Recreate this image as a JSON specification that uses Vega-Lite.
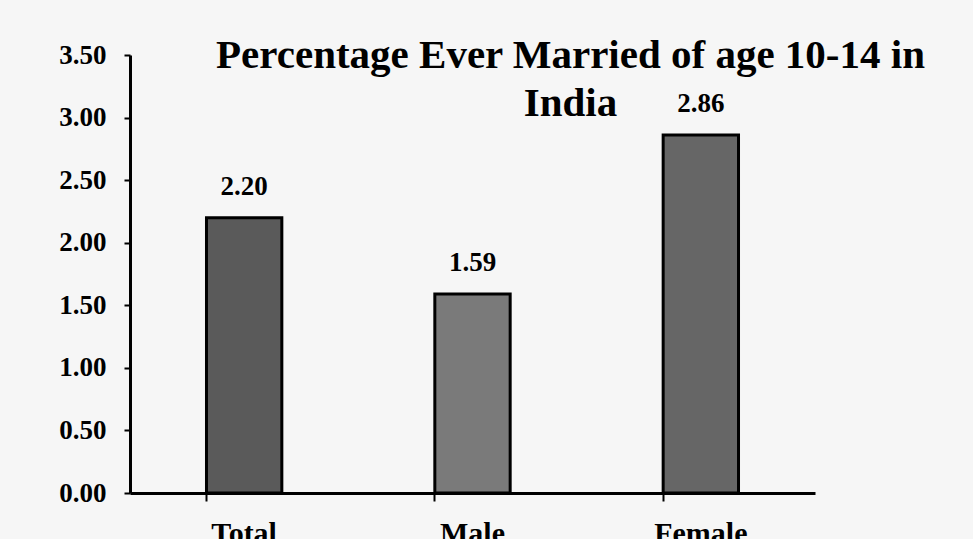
{
  "$schema": "https://vega.github.io/schema/vega-lite/v6.json",
  "autosize": "none",
  "width": 685,
  "height": 438,
  "padding": {"left": 130, "top": 55, "right": 158, "bottom": 46},
  "background": "#f6f6f6",
  "data": {"values": [
    {"category": "Total", "value": 2.20},
    {"category": "Male", "value": 1.59},
    {"category": "Female", "value": 2.86}
  ]},
  "title": {
    "text": ["Percentage Ever Married of age 10-14 in", "India"],
    "font": "Liberation Serif",
    "fontSize": 41,
    "fontWeight": "bold",
    "color": "#000000",
    "lineHeight": 48,
    "anchor": "middle",
    "frame": "group",
    "dx": 98,
    "dy": 84,
    "offset": 0
  },
  "config": {
    "view": {"stroke": null},
    "axis": {
      "labelFont": "Liberation Serif",
      "labelFontWeight": "bold",
      "labelColor": "#000000",
      "domainColor": "#000000",
      "tickColor": "#000000",
      "grid": false,
      "title": null
    }
  },
  "layer": [
    {
      "mark": {"type": "bar", "stroke": "#000000", "strokeWidth": 3},
      "encoding": {
        "x": {
          "field": "category", "type": "nominal", "sort": null,
          "scale": {"paddingInner": 0.67, "paddingOuter": 0.335},
          "axis": {
            "labelAngle": 0, "labelFontSize": 30, "labelPadding": 17,
            "domainWidth": 3, "tickWidth": 2, "tickSize": 8, "bandPosition": 0
          }
        },
        "y": {
          "field": "value", "type": "quantitative",
          "scale": {"domain": [0, 3.5], "nice": false},
          "axis": {
            "values": [0, 0.5, 1, 1.5, 2, 2.5, 3, 3.5], "format": ".2f",
            "labelFontSize": 27, "labelPadding": 18,
            "domainWidth": 3, "tickWidth": 2, "tickSize": 6
          }
        },
        "color": {
          "field": "category", "type": "nominal", "legend": null,
          "scale": {"domain": ["Total", "Male", "Female"], "range": ["#5a5a5a", "#7a7a7a", "#666666"]}
        }
      }
    },
    {
      "mark": {"type": "text", "baseline": "bottom", "dy": -17, "font": "Liberation Serif", "fontWeight": "bold", "fontSize": 27, "color": "#000000"},
      "encoding": {
        "x": {"field": "category", "type": "nominal", "sort": null},
        "y": {"field": "value", "type": "quantitative"},
        "text": {"field": "value", "type": "quantitative", "format": ".2f"}
      }
    }
  ]
}
